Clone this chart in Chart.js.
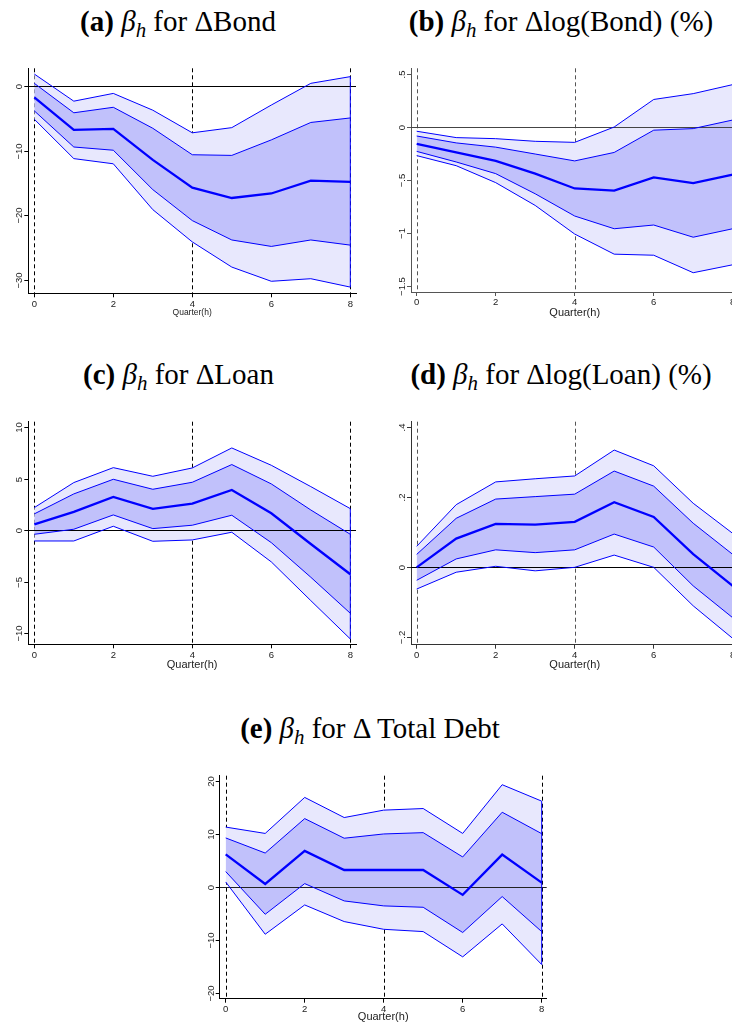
<!DOCTYPE html>
<html><head><meta charset="utf-8">
<script src="https://cdn.jsdelivr.net/npm/chart.js@4.4.1/dist/chart.umd.min.js"></script>
<style>
html,body{margin:0;padding:0;background:#fff;width:732px;height:1024px;overflow:hidden;position:relative}
canvas{position:absolute}
.ttl{position:absolute;transform:translateX(-50%);white-space:nowrap;font-family:'Liberation Serif','Times New Roman',serif;font-size:29px;line-height:29px;color:#000}
.ttl sub{font-size:0.72em;vertical-align:-0.28em;line-height:0}
</style></head><body>
<div class="ttl" style="left:178px;top:7.4px"><b>(a)</b> <i>β</i><sub><i>h</i></sub> for ΔBond</div>
<div class="ttl" style="left:561px;top:7.4px"><b>(b)</b> <i>β</i><sub><i>h</i></sub> for Δlog(Bond) (%)</div>
<div class="ttl" style="left:178.5px;top:360px"><b>(c)</b> <i>β</i><sub><i>h</i></sub> for ΔLoan</div>
<div class="ttl" style="left:561px;top:360px"><b>(d)</b> <i>β</i><sub><i>h</i></sub> for Δlog(Loan) (%)</div>
<div class="ttl" style="left:370px;top:714px"><b>(e)</b> <i>β</i><sub><i>h</i></sub> for Δ Total Debt</div>
<script>
// ---- data ----
const quarters = [0,1,2,3,4,5,6,7,8];
const xTicks = [0,2,4,6,8];
const refQuarters = [0,4,8];

// (a) Delta Bond
const aMean    = [-1.7, -6.75, -6.6, -11.4, -15.7, -17.3, -16.6, -14.6, -14.8];
const aInnerHi = [0.46, -4.1, -3.25, -6.5, -10.6, -10.7, -8.3, -5.6, -4.9];
const aInnerLo = [-3.8, -9.4, -9.9, -16.0, -20.8, -23.8, -24.8, -23.8, -24.6];
const aOuterHi = [1.9, -2.3, -1.1, -3.7, -7.2, -6.4, -2.9, 0.46, 1.5];
const aOuterLo = [-5.1, -11.2, -12.0, -19.1, -24.1, -28.0, -30.2, -29.8, -31.1];
const aYTicks  = [0, -10, -20, -30];
const aYLabels = ['0', '\u221210', '\u221220', '\u221230'];

// (b) Delta log(Bond) (%)
const bMean    = [-0.16, -0.24, -0.32, -0.44, -0.58, -0.60, -0.475, -0.53, -0.45];
const bInnerHi = [-0.085, -0.15, -0.19, -0.255, -0.32, -0.24, -0.03, -0.015, 0.066];
const bInnerLo = [-0.23, -0.33, -0.44, -0.63, -0.84, -0.96, -0.925, -1.04, -0.96];
const bOuterHi = [-0.04, -0.10, -0.11, -0.135, -0.145, 0.0, 0.26, 0.315, 0.40];
const bOuterLo = [-0.27, -0.365, -0.525, -0.74, -1.01, -1.20, -1.21, -1.375, -1.30];
const bYTicks  = [0.5, 0, -0.5, -1, -1.5];
const bYLabels = ['.5', '0', '\u2212.5', '\u22121', '\u22121.5'];

// (c) Delta Loan
const cMean    = [0.58, 1.78, 3.24, 2.07, 2.59, 3.92, 1.65, -1.33, -4.27];
const cInnerHi = [1.59, 3.53, 4.95, 3.98, 4.66, 6.38, 4.5, 1.97, -0.39];
const cInnerLo = [-0.39, 0.1, 1.49, 0.16, 0.49, 1.46, -1.2, -4.56, -8.06];
const cOuterHi = [2.2, 4.63, 6.08, 5.24, 6.05, 7.99, 6.31, 4.24, 2.1];
const cOuterLo = [-1.04, -1.04, 0.39, -1.07, -0.94, -0.19, -3.07, -6.83, -10.55];
const cYTicks  = [10, 5, 0, -5, -10];
const cYLabels = ['10', '5', '0', '\u22125', '\u221210'];

// (d) Delta log(Loan) (%)
const dMean    = [0.0, 0.082, 0.124, 0.122, 0.13, 0.186, 0.144, 0.038, -0.053];
const dInnerHi = [0.037, 0.14, 0.195, 0.202, 0.209, 0.275, 0.232, 0.126, 0.037];
const dInnerLo = [-0.037, 0.024, 0.05, 0.042, 0.05, 0.095, 0.058, -0.053, -0.144];
const dOuterHi = [0.06, 0.179, 0.244, 0.253, 0.261, 0.335, 0.29, 0.183, 0.097];
const dOuterLo = [-0.062, -0.014, 0.003, -0.01, 0.0, 0.035, 0.0, -0.11, -0.203];
const dYTicks  = [0.4, 0.2, 0, -0.2];
const dYLabels = ['.4', '.2', '0', '\u2212.2'];

// (e) Delta Total Debt
const eMean    = [6.16, 0.57, 6.79, 3.2, 3.2, 3.2, -1.5, 6.1, 0.82];
const eInnerHi = [9.25, 6.4, 12.9, 9.2, 10.0, 10.25, 5.66, 14.1, 10.06];
const eInnerLo = [2.9, -5.16, 0.63, -2.64, -3.58, -3.84, -8.6, -1.82, -8.43];
const eOuterHi = [11.3, 10.1, 16.9, 13.1, 14.5, 14.8, 10.1, 19.3, 16.2];
const eOuterLo = [0.94, -8.93, -3.4, -6.54, -8.0, -8.43, -13.2, -6.98, -14.65];
const eYTicks  = [20, 10, 0, -10, -20];
const eYLabels = ['20', '10', '0', '\u221210', '\u221220'];

// ---- style ----
const BLUE = '#0000ff';
const INNER = '#c1c1fb';
const OUTER = '#e8e8fd';
const SANS = "'Liberation Sans', Arial, Helvetica, sans-serif";
const TICK_SIZE = 9.5;

function makePanel(p){
  const cv = document.createElement('canvas');
  cv.width = p.w; cv.height = p.h;
  cv.style.left = p.left + 'px'; cv.style.top = p.top + 'px';
  cv.style.width = p.w + 'px'; cv.style.height = p.h + 'px';
  document.body.appendChild(cv);
  const A = p.area;
  const yW = A.l - p.left, padTop = A.t - p.top, padRight = p.left + p.w - A.r, xH = p.top + p.h - A.b;
  const pts = arr => quarters.map((q,i) => ({x:q, y:arr[i]}));
  const line = (arr,w) => ({data:pts(arr), borderColor:BLUE, borderWidth:w, pointRadius:0, fill:false, tension:0});
  const L = quarters.length - 1;
  const edge = (lo,hi) => ({data:[{x:quarters[L],y:lo[L]},{x:quarters[L],y:hi[L]}], borderColor:BLUE, borderWidth:1, pointRadius:0, fill:false});
  const ds = [
    line(p.mean, 2.3),
    Object.assign(line(p.innerHi,1), {fill:'+1', backgroundColor:INNER}),
    line(p.innerLo,1),
    Object.assign(line(p.outerHi,1), {fill:'+1', backgroundColor:OUTER}),
    line(p.outerLo,1),
    edge(p.outerLo, p.outerHi)
  ];
  const deco = {
    id:'deco_'+p.id,
    beforeDraw(chart){
      const ctx = chart.ctx, xs = chart.scales.x, ca = chart.chartArea;
      ctx.save();
      ctx.strokeStyle = p.dashColor; ctx.lineWidth = 1; ctx.setLineDash([4,3]);
      refQuarters.forEach(q => {
        const px = Math.round(xs.getPixelForValue(q)) + 0.5;
        ctx.beginPath(); ctx.moveTo(px, ca.top); ctx.lineTo(px, ca.bottom); ctx.stroke();
      });
      ctx.restore();
    },
    beforeDatasetsDraw(chart){
      const ctx = chart.ctx, ys = chart.scales.y, ca = chart.chartArea;
      const py = Math.round(ys.getPixelForValue(0)) + 0.5;
      ctx.save();
      ctx.strokeStyle = p.zeroColor; ctx.lineWidth = 1;
      ctx.beginPath(); ctx.moveTo(ca.left, py); ctx.lineTo(ca.right, py); ctx.stroke();
      ctx.restore();
    },
    afterDraw(chart){
      const ctx = chart.ctx, ys = chart.scales.y, ax = chart.chartArea.left;
      ctx.save();
      ctx.strokeStyle = p.axisColor; ctx.lineWidth = 1;
      ctx.fillStyle = '#222';
      ctx.font = TICK_SIZE + 'px ' + SANS;
      p.yTicks.forEach((v,i) => {
        const py = Math.round(ys.getPixelForValue(v)) + 0.5;
        ctx.beginPath(); ctx.moveTo(ax - 4, py); ctx.lineTo(ax, py); ctx.stroke();
        ctx.save();
        ctx.translate(ax - 6, py); ctx.rotate(-Math.PI/2);
        ctx.textAlign = 'center'; ctx.textBaseline = 'alphabetic';
        ctx.fillText(p.yLabels[i], 0, 0);
        ctx.restore();
      });
      ctx.restore();
    }
  };
  new Chart(cv, {
    type:'line',
    data:{datasets:ds},
    options:{
      responsive:false, animation:false, devicePixelRatio:1,
      layout:{padding:{left:0, top:padTop, right:padRight, bottom:0}},
      plugins:{legend:{display:false}, tooltip:{enabled:false}, filler:{drawTime:'beforeDatasetsDraw'}},
      scales:{
        x:{type:'linear', min:p.xMin, max:p.xMax,
           afterBuildTicks:s => { s.ticks = xTicks.map(v => ({value:v})); },
           afterFit:s => { s.height = xH; },
           grid:{display:true, drawOnChartArea:false, drawTicks:true, tickLength:4, color:p.axisColor, lineWidth:1},
           border:{display:true, color:p.axisColor, width:1},
           ticks:{autoSkip:false, maxRotation:0, minRotation:0, padding:1, color:'#222',
                  font:{family:SANS, size:TICK_SIZE}, callback:v => String(v)},
           title:{display:true, text:'Quarter(h)', color:'#222', font:{family:SANS, size:p.titleSize},
                  padding:{top:0, bottom:p.titlePad}}
        },
        y:{type:'linear', min:p.yMin, max:p.yMax,
           afterBuildTicks:s => { s.ticks = p.yTicks.map(v => ({value:v})); },
           afterFit:s => { s.width = yW; },
           grid:{display:false},
           border:{display:true, color:p.axisColor, width:1},
           ticks:{display:false}
        }
      }
    },
    plugins:[deco]
  });
}

makePanel({id:'a', left:0, top:40, w:366, h:285, area:{l:28.3,t:68.3,r:356,b:293.3},
  xMin:-0.152, xMax:8.144, yMin:-32.06, yMax:2.79,
  mean:aMean, innerHi:aInnerHi, innerLo:aInnerLo, outerHi:aOuterHi, outerLo:aOuterLo,
  yTicks:aYTicks, yLabels:aYLabels, titleSize:8.5, titlePad:6.9,
  axisColor:'#000', dashColor:'#000', zeroColor:'#000'});

makePanel({id:'b', left:366, top:40, w:380, h:285, area:{l:411,t:68.3,r:738.4,b:292},
  xMin:-0.144, xMax:8.144, yMin:-1.557, yMax:0.554,
  mean:bMean, innerHi:bInnerHi, innerLo:bInnerLo, outerHi:bOuterHi, outerLo:bOuterLo,
  yTicks:bYTicks, yLabels:bYLabels, titleSize:11, titlePad:5.7,
  axisColor:'#555', dashColor:'#555', zeroColor:'#444'});

makePanel({id:'c', left:0, top:400, w:366, h:275, area:{l:28.3,t:421.7,r:356,b:644.3},
  xMin:-0.152, xMax:8.144, yMin:-11.07, yMax:10.54,
  mean:cMean, innerHi:cInnerHi, innerLo:cInnerLo, outerHi:cOuterHi, outerLo:cOuterLo,
  yTicks:cYTicks, yLabels:cYLabels, titleSize:11, titlePad:3.4,
  axisColor:'#000', dashColor:'#000', zeroColor:'#000'});

makePanel({id:'d', left:366, top:400, w:380, h:275, area:{l:411,t:421.7,r:738.4,b:644.7},
  xMin:-0.144, xMax:8.144, yMin:-0.221, yMax:0.416,
  mean:dMean, innerHi:dInnerHi, innerLo:dInnerLo, outerHi:dOuterHi, outerLo:dOuterLo,
  yTicks:dYTicks, yLabels:dYLabels, titleSize:11, titlePad:3.4,
  axisColor:'#333', dashColor:'#555', zeroColor:'#000'});

makePanel({id:'e', left:180, top:755, w:380, h:269, area:{l:219.7,t:775.7,r:546.7,b:998.7},
  xMin:-0.152, xMax:8.127, yMin:-21.1, yMax:21.0,
  mean:eMean, innerHi:eInnerHi, innerLo:eInnerLo, outerHi:eOuterHi, outerLo:eOuterLo,
  yTicks:eYTicks, yLabels:eYLabels, titleSize:11, titlePad:0.4,
  axisColor:'#000', dashColor:'#000', zeroColor:'#222'});
</script>
</body></html>
